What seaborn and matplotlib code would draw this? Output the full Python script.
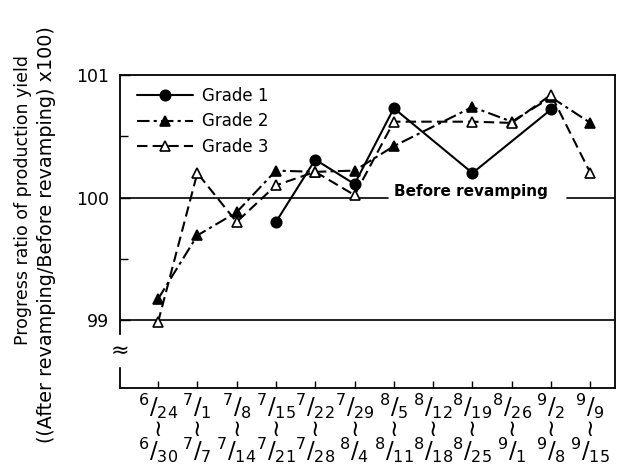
import matplotlib
matplotlib.use('Agg')
import matplotlib.pyplot as plt
import numpy as np
import pandas as pd
import seaborn as sns

# weekly periods (start / end as month, day)
start_m = ['6', '7', '7', '7', '7', '7', '8', '8', '8', '8', '9', '9']
start_d = ['24', '1', '8', '15', '22', '29', '5', '12', '19', '26', '2', '9']
end_m = ['6', '7', '7', '7', '7', '8', '8', '8', '8', '9', '9', '9']
end_d = ['30', '7', '14', '21', '28', '4', '11', '18', '25', '1', '8', '15']

grade1 = [np.nan, np.nan, np.nan, 99.80, 100.31, 100.11, 100.73, np.nan, 100.20, np.nan, 100.72, np.nan]
grade2 = [99.17, 99.69, 99.88, 100.22, 100.21, 100.22, 100.42, np.nan, 100.74, 100.62, 100.82, 100.61]
grade3 = [98.98, 100.20, 99.80, 100.10, 100.21, 100.02, 100.62, np.nan, 100.62, 100.61, 100.84, 100.20]

weeks = list(range(len(start_m)))
df = pd.DataFrame({'week': weeks, 'Grade 1': grade1, 'Grade 2': grade2, 'Grade 3': grade3})

sns.set_style('ticks')
plt.rcParams['font.family'] = ['DejaVu Sans']
plt.rcParams['mathtext.fontset'] = 'dejavusans'
plt.rcParams['text.color'] = 'k'
plt.rcParams['xtick.color'] = 'k'
plt.rcParams['ytick.color'] = 'k'
plt.rcParams['axes.edgecolor'] = 'k'

fig = plt.figure(figsize=(6.17, 4.70), dpi=100)
ax = fig.add_axes([0.1945, 0.1745, 0.8025, 0.6655])

styles = {
    'Grade 1': dict(marker='o', linestyle='-', mfc='k', ms=7.5),
    'Grade 2': dict(marker='^', linestyle=(0, (6, 2, 1.5, 2)), mfc='k', ms=7.5),
    'Grade 3': dict(marker='^', linestyle=(0, (5, 2.5)), mfc='white', ms=7.5),
}
for g, st in styles.items():
    d = df[['week', g]].dropna()
    sns.lineplot(data=d, x='week', y=g, ax=ax, color='k', lw=1.5,
                 mec='k', mew=1.2, label=g, **st)

# reference lines
ax.axhline(99, color='k', lw=1.2, zorder=0)
ax.plot([-0.97, 5.85], [100, 100], color='k', lw=1.2, zorder=0)
ax.plot([10.4, 11.7], [100, 100], color='k', lw=1.2, zorder=0)
ax.text(6.0, 100.05, 'Before revamping', fontsize=11, fontweight='bold',
        ha='left', va='center')

ax.set_xlim(-0.967, 11.63)
ax.set_ylim(98.443, 101)
ax.set_yticks([99, 100, 101])
ax.set_yticklabels(['99', '100', '101'], fontsize=12.5)
ax.set_yticks([99.5, 100.5], minor=True)
ax.set_xticks(weeks)
labels = [f'$^{{{a}}}/_{{{b}}}$\n≀\n$^{{{c}}}/_{{{d}}}$'
          for a, b, c, d in zip(start_m, start_d, end_m, end_d)]
ax.set_xticklabels(labels, fontsize=16.5, linespacing=0.8)
ax.tick_params(axis='both', which='both', direction='in', width=1)
ax.tick_params(axis='y', which='major', length=7, pad=8)
ax.tick_params(axis='y', which='minor', length=6)
ax.tick_params(axis='x', length=5, pad=3)
for s in ax.spines.values():
    s.set_linewidth(1.3)
ax.set_xlabel('')
ax.set_ylabel('')

# axis break mark
ax.text(0, 98.75, '≈', transform=ax.get_yaxis_transform(), fontsize=16,
        ha='center', va='center', backgroundcolor='white')

fig.text(0.037, 0.575, 'Progress ratio of production yield', rotation=90,
         ha='center', va='center', fontsize=12.5)
fig.text(0.076, 0.50, '((After revamping/Before revamping) x100)', rotation=90,
         ha='center', va='center', fontsize=13.8)

ax.legend(loc='upper left', frameon=False, handlelength=3.4, fontsize=12,
          borderaxespad=0.3, labelspacing=0.45, handletextpad=0.5,
          bbox_to_anchor=(0.01, 1.0))

fig.savefig('out.png', dpi=100)
